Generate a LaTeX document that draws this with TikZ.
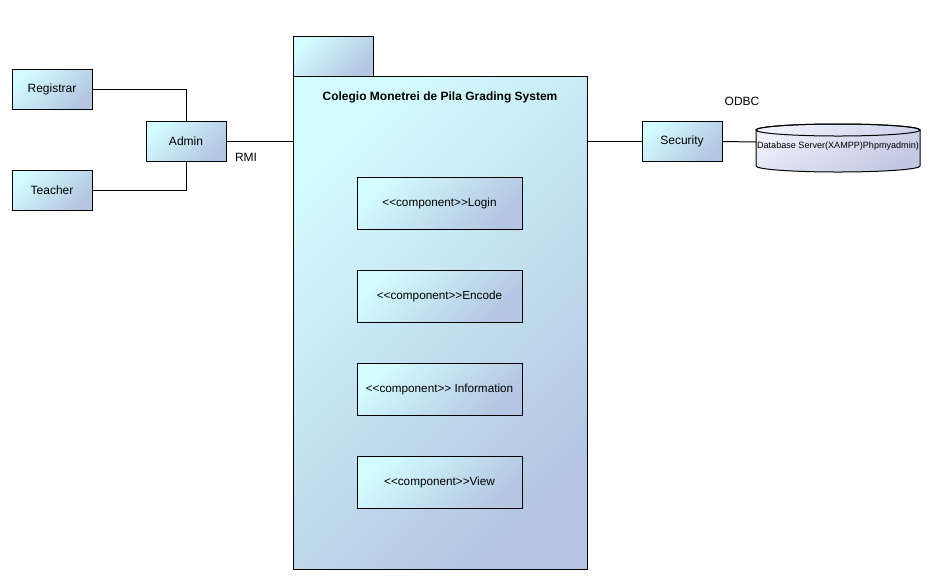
\documentclass[tikz,border=0pt]{standalone}
\usepackage{fontspec}
\setmainfont{Liberation Sans}
\definecolor{gl}{HTML}{D2FCFF}
\definecolor{gd}{HTML}{B4C6E2}
\definecolor{cl}{HTML}{EEF0FA}
\definecolor{cd}{HTML}{C2C8E4}
\newcommand{\stL}{<\kern0pt<}
\newcommand{\stR}{>\kern0pt>}
\tikzset{
  shadebox/.style={draw=black, line width=0.75pt, top color=gl, bottom color=gd, shading angle=45},
  actorbox/.style={shadebox, minimum width=60pt, minimum height=30pt, inner sep=0pt, font=\fontsize{9}{11}\selectfont},
  compbox/.style={shadebox, minimum width=123.75pt, minimum height=39pt, inner sep=0pt, font=\fontsize{8.8}{10}\selectfont},
  conn/.style={line width=0.75pt, black},
  lbl/.style={font=\fontsize{9}{11}\selectfont, inner sep=0pt}
}
\begin{document}
\begin{tikzpicture}[x=0.75pt, y=-0.75pt]
\useasboundingbox (0,0) rectangle (937,583);
% package
\node[shadebox, anchor=north west, minimum width=60pt, minimum height=30pt, inner sep=0pt] (tab) at (293,36) {};
\node[shadebox, anchor=north west, minimum width=220.5pt, minimum height=369.75pt, inner sep=0pt] (pkg) at (293,76) {};
\node[lbl, font=\fontsize{9}{11}\selectfont\bfseries] (title) at (440,97) {Colegio Monetrei de Pila Grading System};
% components
\node[compbox] (login) at (439.5,203) {\stL component\stR Login};
\node[compbox] (encode) at (439.5,296) {\stL component\stR Encode};
\node[compbox] (info) at (439.5,389) {\stL component\stR{} Information};
\node[compbox] (view) at (439.5,482) {\stL component\stR View};
% actors
\node[actorbox] (registrar) at (52,89) {Registrar};
\node[actorbox] (teacher) at (52,190) {Teacher};
\node[actorbox] (admin) at (186,141) {Admin};
\node[actorbox] (security) at (682,141.5) {Security};
% database cylinder
\path[top color=cl, bottom color=cd, shading angle=30, draw=black, line width=0.75pt]
  (756,130) -- (756,166) arc[start angle=180, end angle=360, x radius=61.5pt, y radius=4.5pt]
  -- (920,130) arc[start angle=0, end angle=180, x radius=61.5pt, y radius=4.5pt] -- cycle;
\draw[line width=0.75pt] (838,130) ellipse[x radius=61.5pt, y radius=4.5pt];
\node[inner sep=0pt, font=\fontsize{6.8}{8}\selectfont] (db) at (838,146) {Database Server(XAMPP)Phpmyadmin)};
% connectors
\draw[conn] (registrar.east) -| (admin.north);
\draw[conn] (teacher.east) -| (admin.south);
\draw[conn] (admin.east) -- (admin.east -| pkg.west);
\draw[conn] (security.west) -- (security.west -| pkg.east);
\coordinate (dbw) at (756,142);
\draw[conn] (security.east) -- (dbw);
% labels
\node[lbl] (rmi) at (246,157) {RMI};
\node[lbl] (odbc) at (742,101) {ODBC};
\end{tikzpicture}
\end{document}
